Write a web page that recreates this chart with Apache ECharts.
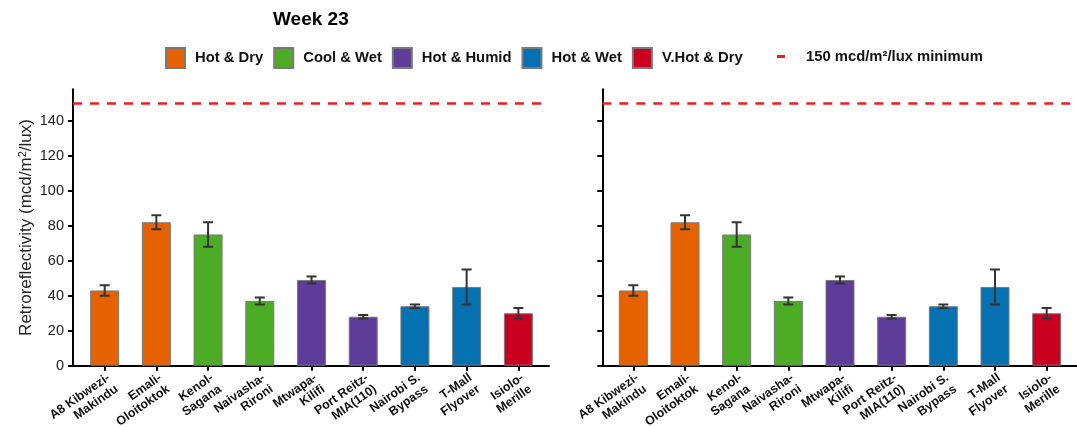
<!DOCTYPE html>
<html>
<head>
<meta charset="utf-8">
<script src="https://cdn.jsdelivr.net/npm/echarts@6/dist/echarts.min.js"></script>
<style>
  html, body { margin: 0; padding: 0; background: #fff; }
  #chart { width: 1077px; height: 427px; }
</style>
</head>
<body>
<div id="chart"></div>
<script>
// Site names, mean retroreflectivity and error half-widths (mcd/m²/lux)
const categories = ['A8 Kibwezi-\nMakindu', 'Emali-\nOloitoktok', 'Kenol-\nSagana', 'Naivasha-\nRironi',
  'Mtwapa-\nKilifi', 'Port Reitz-\nMIA(110)', 'Nairobi S.\nBypass', 'T-Mall\nFlyover', 'Isiolo-\nMerille'];
const means = [43, 82, 75, 37, 49, 28, 34, 45, 30];
const errors = [3, 4, 7, 2, 2, 1, 1, 10, 3];
const siteClimate = ['Hot & Dry', 'Hot & Dry', 'Cool & Wet', 'Cool & Wet', 'Hot & Humid',
  'Hot & Humid', 'Hot & Wet', 'Hot & Wet', 'V.Hot & Dry'];
const climateGroups = ['Hot & Dry', 'Cool & Wet', 'Hot & Humid', 'Hot & Wet', 'V.Hot & Dry'];
const groupColors = ['#E66100', '#4DAC26', '#5E3C99', '#0571B0', '#CA0020'];
const minimumLevel = 150;
const minimumName = '150 mcd/m²/lux minimum';
const yTicks = [0, 20, 40, 60, 80, 100, 120, 140];
const yMax = 158;

const FONT = 'Liberation Sans, Arial, sans-serif';
const RED = '#EE1C25';
const chart = echarts.init(document.getElementById('chart'), null, { renderer: 'canvas' });

// Two identical panels: an outer grid carries the axis frame and threshold line,
// an inner grid (slightly inset) carries the bars, error bars and site labels.
const panels = [
  { outerLeft: 73, outerWidth: 476, innerLeft: 78.8, innerWidth: 465.4, showLabels: true },
  { outerLeft: 602.3, outerWidth: 474.7, innerLeft: 607.5, innerWidth: 465, showLabels: false }
];
const gridTop = 89.3, gridHeight = 276.4;

const grid = [], xAxis = [], yAxis = [], series = [];

panels.forEach((p, pi) => {
  const outerIdx = grid.length;
  grid.push({ left: p.outerLeft, width: p.outerWidth, top: gridTop, height: gridHeight,
    outerBoundsMode: 'none', containLabel: false });
  const innerIdx = grid.length;
  grid.push({ left: p.innerLeft, width: p.innerWidth, top: gridTop, height: gridHeight,
    outerBoundsMode: 'none', containLabel: false });

  xAxis.push({
    gridIndex: outerIdx, type: 'value', min: 0, max: 1,
    axisLine: { show: true, onZero: false, lineStyle: { color: '#000', width: 2 } },
    axisTick: { show: false }, axisLabel: { show: false }, splitLine: { show: false }
  });
  xAxis.push({
    gridIndex: innerIdx, type: 'category', data: categories,
    axisLine: { show: false },
    axisTick: { show: true, alignWithLabel: true, length: 5, lineStyle: { color: '#000', width: 2 } },
    axisLabel: {
      rotate: 35, fontFamily: FONT, fontWeight: 'bold', fontSize: 12.5, lineHeight: 14,
      color: '#111', margin: 5, interval: 0, align: 'right', verticalAlign: 'top'
    }
  });

  yAxis.push({
    gridIndex: outerIdx, type: 'value', min: 0, max: yMax,
    name: p.showLabels ? '{a|Retroreflectivity (mcd/m}{s|2}{a|/lux)}' : '',
    nameLocation: 'middle', nameGap: 38,
    nameTextStyle: {
      rich: {
        a: { fontFamily: FONT, fontSize: 17, color: '#222' },
        s: { fontFamily: FONT, fontSize: 11, color: '#222', verticalAlign: 'top', padding: [0, 0, 7, 0] }
      }
    },
    axisLine: { show: true, lineStyle: { color: '#000', width: 2 } },
    axisTick: { show: true, length: 5, customValues: yTicks, lineStyle: { color: '#000', width: 2 } },
    axisLabel: {
      show: p.showLabels, customValues: yTicks, fontFamily: FONT, fontSize: 14.5, color: '#222', margin: 9
    },
    splitLine: { show: false }
  });
  yAxis.push({
    gridIndex: innerIdx, type: 'value', min: 0, max: yMax, show: false
  });

  const outerX = pi * 2, innerX = pi * 2 + 1;
  const outerY = pi * 2, innerY = pi * 2 + 1;

  // Bars, one series per climate group so that the legend picks up each colour
  climateGroups.forEach((g, gi) => {
    series.push({
      name: g, type: 'bar', xAxisIndex: innerX, yAxisIndex: innerY,
      stack: 'sites' + pi, barWidth: 29,
      itemStyle: { color: groupColors[gi], borderColor: '#7a7a7a', borderWidth: 1 },
      data: means.map((v, i) => siteClimate[i] === g ? v : '-'),
      z: 2
    });
  });

  // Error bars
  series.push({
    type: 'custom', xAxisIndex: innerX, yAxisIndex: innerY, z: 5,
    data: means.map((v, i) => [i, v - errors[i], v + errors[i]]),
    renderItem: function (params, api) {
      const lo = api.coord([api.value(0), api.value(1)]);
      const hi = api.coord([api.value(0), api.value(2)]);
      const half = 5;
      const style = { stroke: '#333', lineWidth: 2 };
      return {
        type: 'group',
        children: [
          { type: 'line', shape: { x1: hi[0], y1: hi[1], x2: lo[0], y2: lo[1] }, style: style },
          { type: 'line', shape: { x1: hi[0] - half, y1: hi[1], x2: hi[0] + half, y2: hi[1] }, style: style },
          { type: 'line', shape: { x1: lo[0] - half, y1: lo[1], x2: lo[0] + half, y2: lo[1] }, style: style }
        ]
      };
    }
  });

  // Threshold line across the full panel
  series.push({
    name: minimumName, type: 'line', xAxisIndex: outerX, yAxisIndex: outerY,
    data: [], symbol: 'none',
    lineStyle: { color: RED, width: 3 },
    itemStyle: { color: RED },
    markLine: {
      silent: true, symbol: 'none', label: { show: false },
      lineStyle: { color: RED, width: 2.5, type: [9, 8] },
      data: [{ yAxis: minimumLevel }]
    },
    z: 4
  });
});

const legendText = { fontFamily: FONT, fontSize: 14.8, fontWeight: 'bold', color: '#111' };

chart.setOption({
  animation: false,
  backgroundColor: '#fff',
  title: {
    text: 'Week 23', left: 273, top: 10, padding: 0,
    textStyle: { fontFamily: FONT, fontSize: 19, fontWeight: 'bold', color: '#000' }
  },
  legend: [
    {
      data: climateGroups, left: 165, top: 47, padding: 0,
      itemWidth: 19, itemHeight: 20, itemGap: 10,
      icon: 'rect', textStyle: Object.assign({ padding: [0, 0, 0, 5] }, legendText), selectedMode: false
    },
    {
      data: [{ name: minimumName, icon: 'rect', itemStyle: { color: RED, borderWidth: 0 } }],
      left: 777, top: 49, padding: 0, itemWidth: 8, itemHeight: 3,
      textStyle: Object.assign({ padding: [0, 0, 0, 16] }, legendText), selectedMode: false
    }
  ],
  grid: grid,
  xAxis: xAxis,
  yAxis: yAxis,
  series: series
});
</script>
</body>
</html>
